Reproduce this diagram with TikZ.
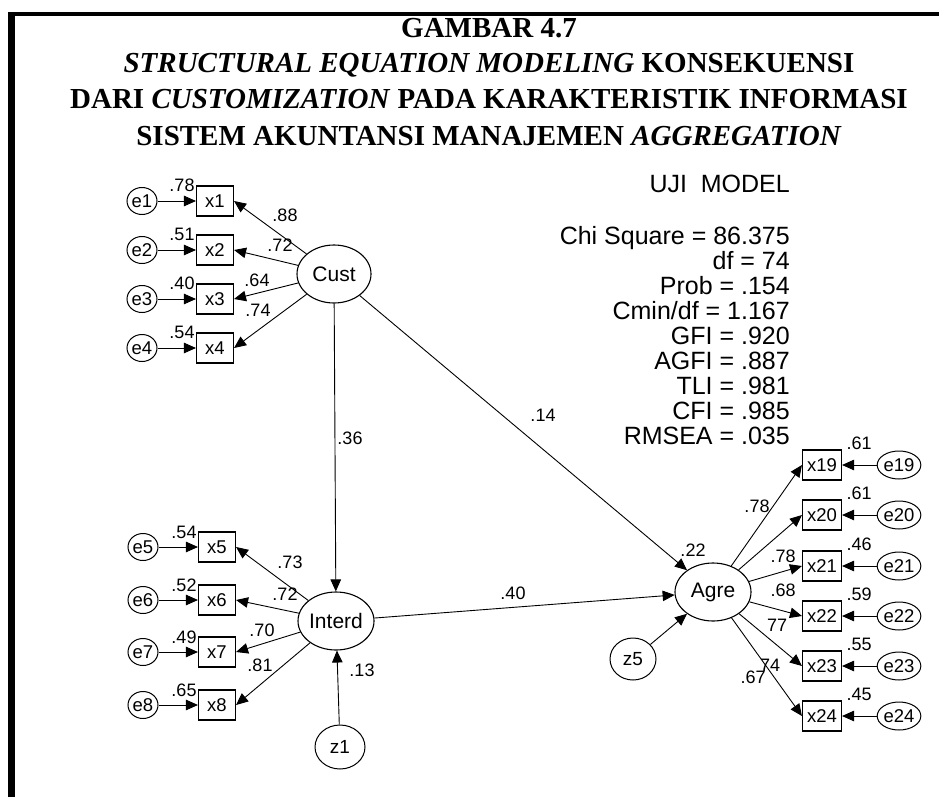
\documentclass[tikz,border=0pt]{standalone}
\usepackage{fontspec}
\setmainfont{Liberation Serif}
\setsansfont{Liberation Sans}
\usetikzlibrary{arrows.meta,shapes.geometric}
\begin{document}
\begin{tikzpicture}[x=1pt,y=-1pt,
  obs/.style={draw, line width=1.1pt, minimum width=37pt, minimum height=30pt, inner sep=0pt, font=\sffamily\fontsize{18.5}{18.5}\selectfont},
  err/.style={draw, ellipse, line width=1pt, minimum width=30pt, minimum height=27pt, inner sep=0pt, font=\sffamily\fontsize{18.5}{18.5}\selectfont},
  lat/.style={draw, ellipse, line width=1.1pt, minimum width=74pt, minimum height=58pt, inner sep=0pt, font=\sffamily\fontsize{21}{21}\selectfont},
  dist/.style={draw, ellipse, line width=1pt, minimum width=50pt, minimum height=44pt, inner sep=0pt, font=\sffamily\fontsize{19}{19}\selectfont},
  lab/.style={font=\sffamily\fontsize{18}{18}\selectfont, inner sep=0pt},
  arr/.style={-{Triangle[length=12pt,width=10.5pt]}, line width=0.9pt},
  stat/.style={font=\sffamily\fontsize{25}{25}\selectfont, anchor=base east, inner sep=0pt},
  ttl/.style={font=\bfseries\fontsize{29}{29}\selectfont, anchor=base, inner sep=0pt}
]
\useasboundingbox (0,0) rectangle (939,797);
\fill[white] (0,0) rectangle (939,797);
% frame
\fill[black] (8,12) rectangle (939,16.5);
\fill[black] (8,12) rectangle (14.5,797);
% title
\node[ttl] (t1) at (489,37.5) {GAMBAR 4.7};
\node[ttl] (t2) at (489,73) {\textit{STRUCTURAL EQUATION MODELING} KONSEKUENSI};
\node[ttl] (t3) at (489,109) {DARI \textit{CUSTOMIZATION} PADA KARAKTERISTIK INFORMASI};
\node[ttl] (t4) at (489,145) {SISTEM AKUNTANSI MANAJEMEN \textit{AGGREGATION}};
% stats
\node[stat] (s0) at (790,192) {UJI\ \ MODEL};
\node[stat] (s1) at (790,244) {Chi Square = 86.375};
\node[stat] (s2) at (790,269) {df = 74};
\node[stat] (s3) at (790,294) {Prob = .154};
\node[stat] (s4) at (790,319) {Cmin/df = 1.167};
\node[stat] (s5) at (790,344) {GFI = .920};
\node[stat] (s6) at (790,369) {AGFI = .887};
\node[stat] (s7) at (790,394) {TLI = .981};
\node[stat] (s8) at (790,419) {CFI = .985};
\node[stat] (s9) at (790,444) {RMSEA = .035};
% latent
\node[lat] (Cust) at (334,274) {Cust};
\node[lat, minimum width=76pt] (Interd) at (336,621) {Interd};
\node[lat, minimum width=76pt] (Agre) at (713,592) {Agre};
\node[dist] (z1) at (340,747) {z1};
\node[dist, minimum width=46pt, minimum height=42pt] (z5) at (633,659) {z5};
% top-left indicators
\foreach \i/\y/\v in {1/201/.78, 2/250/.51, 3/299/.40, 4/348/.54}{
  \node[obs] (x\i) at (215,\y) {x\i};
  \node[err] (e\i) at (142,\y) {e\i};
  \node[lab] (le\i) at (182,\y-16) {\v};
  \draw[arr] (e\i) -- (x\i);
  \draw[arr] (Cust) -- (x\i.east);
}
% bottom-left indicators
\foreach \i/\y/\v in {5/547/.54, 6/600/.52, 7/652/.49, 8/705/.65}{
  \node[obs] (x\i) at (217,\y) {x\i};
  \node[err] (e\i) at (143,\y) {e\i};
  \node[lab] (le\i) at (184,\y-15) {\v};
  \draw[arr] (e\i) -- (x\i);
  \draw[arr] (Interd) -- (x\i.east);
}
% right indicators
\foreach \i/\y/\v in {19/465/.61, 20/515/.61, 21/566/.46, 22/616/.59, 23/666/.55, 24/716/.45}{
  \node[obs, minimum width=39pt] (x\i) at (822,\y) {x\i};
  \node[err, minimum width=28pt, minimum height=28pt] (e\i) at (899,\y) {e\i};
  \node[lab] (le\i) at (859,\y-22) {\v};
  \draw[arr] (e\i) -- (x\i);
  \draw[arr] (Agre) -- (x\i.west);
}
% structural
\draw[arr] (Cust) -- (Interd);
\draw[arr] (Cust) -- (Agre);
\draw[arr] (Interd) -- (Agre);
\draw[arr] (z1) -- (Interd);
\draw[arr] (z5) -- (Agre);
% loading labels
\node[lab] (l1) at (285,215) {.88};
\node[lab] (l2) at (280,245) {.72};
\node[lab] (l3) at (257,280) {.64};
\node[lab] (l4) at (258,310) {.74};
\node[lab] (l5) at (290,562) {.73};
\node[lab] (l6) at (285,594) {.72};
\node[lab] (l7) at (262,630) {.70};
\node[lab] (l8) at (260,665) {.81};
\node[lab] (l9) at (362,670) {.13};
\node[lab] (l10) at (350,438) {.36};
\node[lab] (l11) at (543,415) {.14};
\node[lab] (l12) at (513,593) {.40};
\node[lab] (l13) at (693,550) {.22};
\node[lab] (l14) at (757,506) {.78};
\node[lab] (l15) at (783,556) {.78};
\node[lab] (l16) at (783,590) {.68};
\node[lab] (l17) at (777,625) {77};
\node[lab] (l18) at (770,665) {74};
\node[lab] (l19) at (753,677) {.67};
\end{tikzpicture}
\end{document}
